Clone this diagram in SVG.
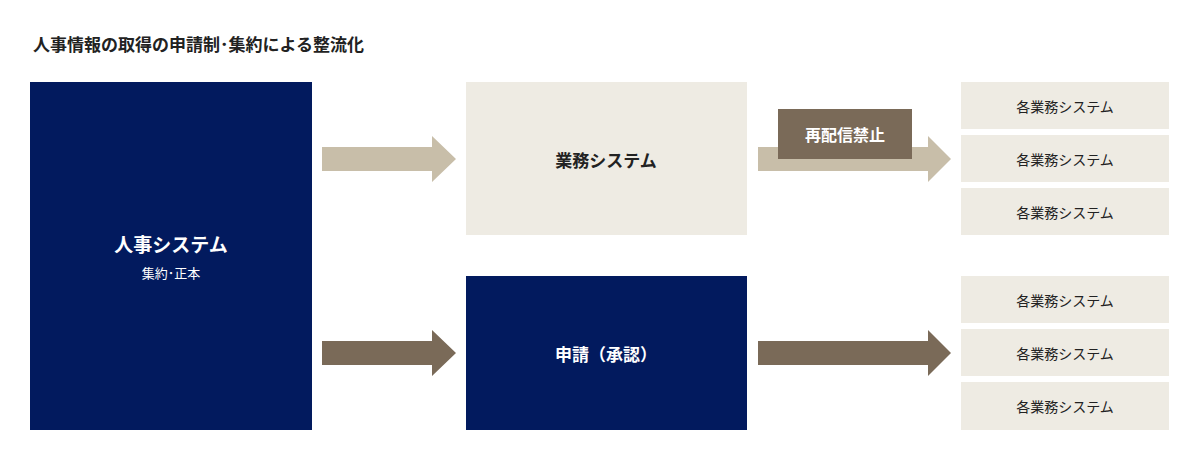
<svg xmlns="http://www.w3.org/2000/svg" width="1200" height="460" viewBox="0 0 1200 460">
<style>
text{font-family:"Noto Sans CJK JP","Noto Sans",sans-serif;text-anchor:middle;dominant-baseline:central}
.navy{fill:#021a5e}.light{fill:#eeebe3}.beige{fill:#c8bea9}.brown{fill:#7a6a58}
.w{fill:#fff;font-weight:bold}.d{fill:#222}.s{font-size:14px;fill:#222}
</style>
<rect width="1200" height="460" fill="#fff"/>
<text x="33" y="43" style="text-anchor:start;font-size:17px;font-weight:bold;fill:#222">人事情報の取得の申請制･集約による整流化</text>
<g id="connectors">
<polygon class="beige" points="322,147 432,147 432,136 456,159 432,182 432,171 322,171"/>
<polygon class="beige" points="758,147 928,147 928,136 951,159 928,182 928,171 758,171"/>
<polygon class="brown" points="322,341 432,341 432,330 456,353 432,376 432,365 322,365"/>
<polygon class="brown" points="758,341 928,341 928,330 951,353 928,376 928,365 758,365"/>
<g id="label-no-redistribution"><rect class="brown" x="778" y="109" width="134" height="50"/><text class="w" x="845" y="134" font-size="16">再配信禁止</text></g>
</g>
<g id="hr"><rect class="navy" x="30" y="82" width="282" height="348"/><text class="w" x="171" y="243" font-size="19">人事システム</text><text x="171" y="272" font-size="13" fill="#fff">集約･正本</text></g>
<g id="biz"><rect class="light" x="466" y="82" width="281" height="153"/><text x="606" y="159" font-size="17" font-weight="bold" fill="#222">業務システム</text></g>
<g id="apply"><rect class="navy" x="466" y="276" width="281" height="154"/><text class="w" x="606" y="353" font-size="17">申請（承認）</text></g>
<g id="r1"><rect class="light" x="961" y="82" width="208" height="47"/><text class="s" x="1065" y="106">各業務システム</text></g>
<g id="r2"><rect class="light" x="961" y="135" width="208" height="47"/><text class="s" x="1065" y="159">各業務システム</text></g>
<g id="r3"><rect class="light" x="961" y="188" width="208" height="47"/><text class="s" x="1065" y="212">各業務システム</text></g>
<g id="r4"><rect class="light" x="961" y="276" width="208" height="47"/><text class="s" x="1065" y="300">各業務システム</text></g>
<g id="r5"><rect class="light" x="961" y="329" width="208" height="47"/><text class="s" x="1065" y="353">各業務システム</text></g>
<g id="r6"><rect class="light" x="961" y="382" width="208" height="48"/><text class="s" x="1065" y="406">各業務システム</text></g>
</svg>
